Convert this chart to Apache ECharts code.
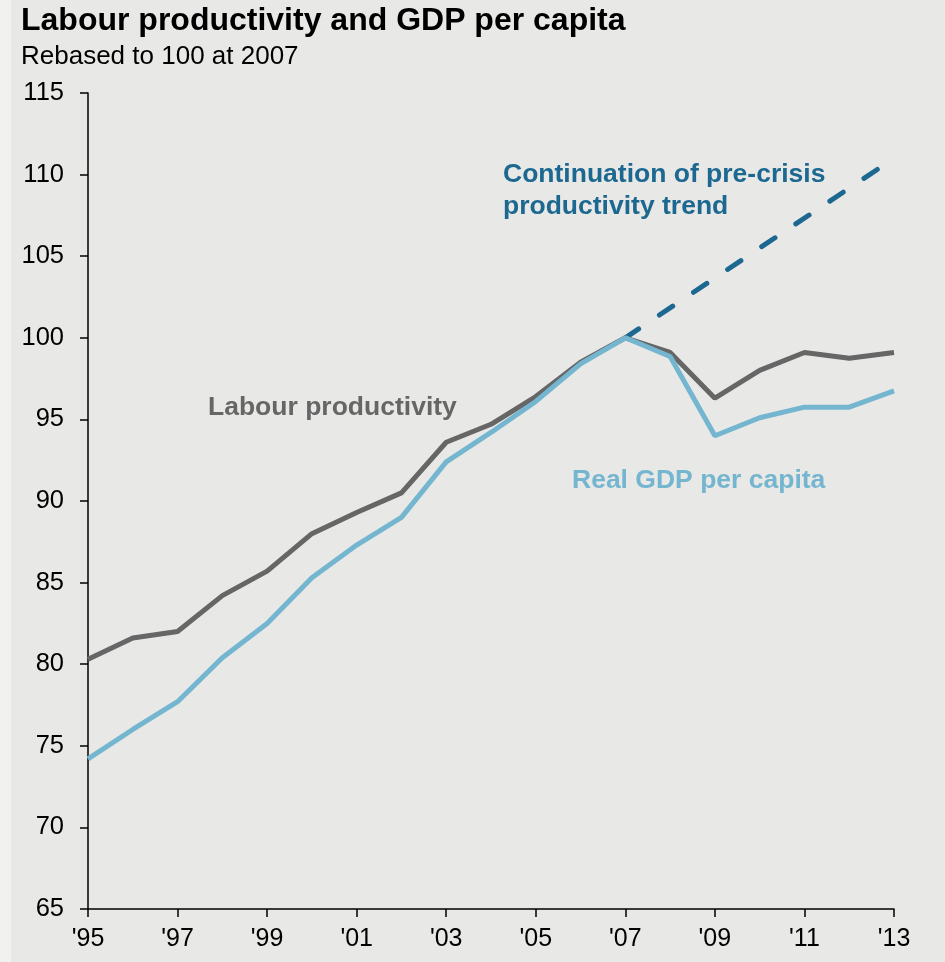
<!DOCTYPE html>
<html>
<head>
<meta charset="utf-8">
<style>
  html, body { margin: 0; padding: 0; background: #e8e8e6; }
  #chart { width: 945px; height: 962px; }
</style>
<script src="https://cdn.jsdelivr.net/npm/echarts@6/dist/echarts.min.js"></script>
</head>
<body>
<div id="chart"></div>
<script>
// Years on the horizontal axis (1995-2013)
const years = ['1995','1996','1997','1998','1999','2000','2001','2002','2003','2004',
               '2005','2006','2007','2008','2009','2010','2011','2012','2013'];

// Index, 2007 = 100
const labourProductivity = [80.3, 81.6, 82.0, 84.2, 85.7, 88.0, 89.3, 90.5, 93.6, 94.7,
                            96.4, 98.5, 100.0, 99.1, 96.3, 98.0, 99.1, 98.75, 99.1];
const realGdpPerCapita   = [74.2, 76.0, 77.7, 80.4, 82.5, 85.3, 87.3, 89.0, 92.4, 94.2,
                            96.1, 98.4, 100.0, 98.85, 94.0, 95.1, 95.75, 95.75, 96.75];
// Pre-crisis trend projected from 2007 to 2013
const preCrisisTrend     = [null, null, null, null, null, null, null, null, null, null,
                            null, null, 100.0, null, null, null, null, null, 111.0];

const FONT = 'Arial, "Liberation Sans", sans-serif';
const C_GREY = '#666666';
const C_LIGHT = '#74b5d0';
const C_DARK = '#1c6890';
const LABEL_FONT = 'bold 26.5px ' + FONT;

const chart = echarts.init(document.getElementById('chart'));

chart.setOption({
  backgroundColor: '#e8e8e6',
  animation: false,
  title: {
    text: 'Labour productivity and GDP per capita',
    subtext: 'Rebased to 100 at 2007',
    left: 16,
    top: 0,
    itemGap: 7,
    textStyle: { fontFamily: FONT, fontSize: 32, fontWeight: 'bold', color: '#000' },
    subtextStyle: { fontFamily: FONT, fontSize: 26, color: '#000' }
  },
  grid: { left: 88, right: 51, top: 93, bottom: 53, containLabel: false },
  xAxis: {
    type: 'category',
    data: years,
    boundaryGap: false,
    axisLine: { lineStyle: { color: '#000', width: 1.5 } },
    axisTick: { interval: 1, length: 8, lineStyle: { color: '#000', width: 1.5 } },
    axisLabel: {
      interval: 1,
      margin: 18,
      fontFamily: FONT,
      fontSize: 25,
      color: '#000',
      formatter: v => "'" + v.slice(2)
    },
    splitLine: { show: false }
  },
  yAxis: {
    type: 'value',
    min: 65,
    max: 115,
    interval: 5,
    axisLine: { show: true, lineStyle: { color: '#000', width: 1.5 } },
    axisTick: { show: true, length: 8, lineStyle: { color: '#000', width: 1.5 } },
    axisLabel: { margin: 24, fontFamily: FONT, fontSize: 25.5, color: '#000' },
    splitLine: { show: false }
  },
  series: [
    {
      name: 'Continuation of pre-crisis productivity trend',
      type: 'line',
      data: preCrisisTrend,
      connectNulls: true,
      showSymbol: false,
      lineStyle: { color: C_DARK, width: 5, type: [16, 25], cap: 'round' },
      z: 2
    },
    {
      name: 'Labour productivity',
      type: 'line',
      data: labourProductivity,
      showSymbol: false,
      lineStyle: { color: C_GREY, width: 5 },
      z: 3
    },
    {
      name: 'Real GDP per capita',
      type: 'line',
      data: realGdpPerCapita,
      showSymbol: false,
      lineStyle: { color: C_LIGHT, width: 5 },
      z: 4
    }
  ],
  graphic: [
    { type: 'rect', left: 0, top: 0, shape: { width: 11, height: 962 },
      style: { fill: '#f1f1f0' }, silent: true },
    { type: 'text', x: 208, y: 408,
      style: { text: 'Labour productivity', font: LABEL_FONT, fill: C_GREY, verticalAlign: 'middle' } },
    { type: 'text', x: 572, y: 481,
      style: { text: 'Real GDP per capita', font: LABEL_FONT, fill: C_LIGHT, verticalAlign: 'middle' } },
    { type: 'text', x: 503, y: 175,
      style: { text: 'Continuation of pre-crisis', font: LABEL_FONT, fill: C_DARK, verticalAlign: 'middle' } },
    { type: 'text', x: 503, y: 207,
      style: { text: 'productivity trend', font: LABEL_FONT, fill: C_DARK, verticalAlign: 'middle' } }
  ]
});
</script>
</body>
</html>
